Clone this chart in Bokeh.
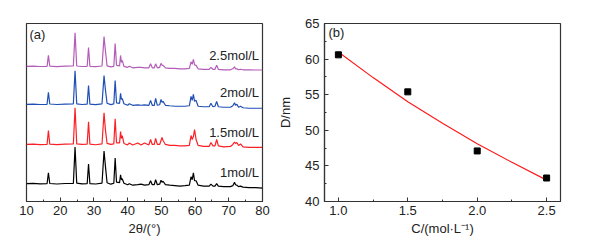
from bokeh.plotting import figure
from bokeh.layouts import row
from bokeh.models import Range1d, Label, SingleIntervalTicker, PrintfTickFormatter
from bokeh.embed import file_html
from bokeh.resources import INLINE

# ---------------- data: panel (a) XRD patterns ----------------
two_theta = [10.0, 12.0, 14.0, 16.1, 16.5, 16.9, 19.0, 21.5, 23.9, 24.4,
             24.9, 26.5, 28.0, 28.4, 28.8, 30.5, 32.4, 33.0, 33.4, 33.9,
             35.0, 35.9, 36.3, 36.7, 37.6, 37.9, 38.15, 38.4, 38.9, 40.0,
             40.5, 41.5, 43.0, 44.0, 45.0, 46.3, 46.8, 47.3, 47.9, 48.3,
             48.8, 49.5, 49.9, 50.2, 50.5, 51.2, 52.5, 54.0, 55.5, 57.0,
             58.3, 58.8, 59.15, 59.5, 59.85, 60.3, 60.9, 62.5, 64.2, 64.7,
             65.3, 65.9, 66.4, 66.9, 68.5, 70.5, 71.2, 71.7, 72.0, 72.4,
             72.9, 73.5, 74.2, 76.0, 78.0, 80.0]

int_1M = [0, 0.3, -0.2, 0, 11, 0.2, -0.3, 0.2, 0.3, 37,
          0.5, -0.2, 0, 20, 0, -0.3, 0.5, 33, 18, 1,
          -0.5, 0.5, 26, 1.5, 1, 9, 4, 5, 0.5, -1,
          0, -1.5, -1, -0.5, -1.5, -1, 3, -1, -1, 4,
          -1, -0.5, 3.5, 1.5, 2.5, -1, -1.5, -2, -2.5, -2,
          -1.5, 7, 4, 11, 3, 3, -1.5, -2.5, -2.5, -0.5,
          -2.5, -2.5, 0, -2.5, -3, -3, -2, 1.5, -1, -1.5,
          -3, -2.5, -3.5, -4, -4, -4.5]

int_1p5M = [0, 0.3, -0.2, 0, 14, 0.3, -0.2, 0.3, 0.5, 37,
            0.5, 0, 0.3, 23, 0.3, -0.3, 0.5, 32, 15, 1,
            0, 0.5, 26, 1.5, 1.5, 13, 6, 9, 1, -0.5,
            1.5, -0.5, 1.5, -0.5, 1.5, -0.5, 5, 0, 0, 6,
            0, 0, 4, 7, 4, 0, -1, -1, -1.5, -1.5,
            -1, 9, 5, 8, 15, 5, -1, -2, -2, 2,
            -1.5, -1.5, 5, -1.5, -2.5, -2, 0, 2.5, 1, 2,
            -1, 0.5, -2.5, -3, -3, -3]

int_2M = [0, 0.2, -0.2, 0, 12, 0.3, -0.2, 0.2, 0.5, 34,
          0.5, -0.2, 0.2, 19, 0.2, -0.3, 0.5, 29, 15, 1,
          -0.3, 0.5, 24, 1.5, 1, 11, 5, 6, 0.5, -1,
          0.5, -1, -0.5, -1, -0.5, -1, 4, -1, -1, 6,
          -1, -0.5, 5, 2, 3, -1, -1.5, -2, -2, -2,
          -1.5, 8, 4, 10, 3, 4, -2, -2.5, -2.5, 1,
          -2.5, -2, 3, -2.5, -3, -3, -1.5, 1.5, -1, 0,
          -3, -2, -3.5, -4, -4, -4]

int_2p5M = [0, 0.2, -0.2, 0, 11, 0.2, -0.3, 0.2, 0.3, 34,
            0.3, -0.2, 0, 19, 0, -0.3, 0.3, 30, 16, 0.5,
            -0.5, 0, 23, 1, 0.5, 11, 4, 6, 0, -1,
            0, -1.5, -1, -1, -1.5, -1.5, 2.5, -1.5, -1.5, 2.5,
            -1.5, -1, 3, 1, 1, -1.5, -2, -2, -2.5, -2.5,
            -2, 4.5, 2, 7, 1.5, 1, -2.5, -3, -3, -1,
            -3, -3, 1, -3, -3.5, -3.5, -2.5, -0.5, -2.5, -2.5,
            -3.5, -3, -3.5, -3.5, -3.7, -3.7]

series_names = ["1mol/L", "1.5mol/L", "2mol/L", "2.5mol/L"]
series_values = [int_1M, int_1p5M, int_2M, int_2p5M]
series_offsets = [18, 57.7, 98.3, 136.7]
series_colors = ["#000000", "#fb2026", "#1f4fb5", "#b45cb8"]

# ---------------- data: panel (b) crystallite size ----------------
conc = [1.0, 1.5, 2.0, 2.5]
size_nm = [60.6, 55.4, 47.1, 43.3]
fit_conc = [1.0, 1.25, 1.5, 1.75, 2.0, 2.25, 2.5]
fit_size = [61.0, 57.4, 54.0, 51.0, 48.1, 45.5, 43.0]

FONT = "Liberation Sans"
FS = "13px"
W1, W2, H = 275, 314, 246


def style_axis(a):
    a.major_tick_in = 4
    a.major_tick_out = 0
    a.minor_tick_in = 2
    a.minor_tick_out = 0
    a.axis_line_color = "#333333"
    a.axis_line_width = 1.2
    a.major_tick_line_color = "#333333"
    a.minor_tick_line_color = "#333333"
    a.major_label_text_font = FONT
    a.major_label_text_font_size = FS
    a.major_label_text_color = "#222222"
    a.axis_label_text_font = FONT
    a.axis_label_text_font_size = FS
    a.axis_label_text_font_style = "normal"
    a.axis_label_text_color = "#222222"


# ---------------- panel (a) ----------------
pa = figure(width=W1, height=H, output_backend="svg", toolbar_location=None,
            x_range=Range1d(10, 80), y_range=Range1d(0, 180),
            min_border_left=26, min_border_right=W1 - 262,
            min_border_top=21, min_border_bottom=45)
pa.yaxis.visible = False
pa.xgrid.visible = False
pa.ygrid.visible = False
pa.outline_line_color = "#333333"
pa.outline_line_width = 1.2
pa.background_fill_color = "white"
pa.border_fill_color = "white"

ax = pa.xaxis[0]
ax.ticker = SingleIntervalTicker(interval=10, num_minor_ticks=2)
style_axis(ax)
ax.major_label_standoff = 4
ax.axis_label = "2θ/(°)"
ax.axis_label_standoff = 3

for name, vals, off, col in zip(series_names, series_values, series_offsets, series_colors):
    ys = [v + off for v in vals]
    pa.line(two_theta, ys, line_color=col, line_width=1.2)


def ax_x(px):
    return 10 + (px - 26) / 236 * 70


def ax_y(py):
    return (201 - py) / 180 * 180


label_py = [172, 131, 91, 53]
for name, py in zip(series_names, label_py):
    pa.add_layout(Label(x=ax_x(258.5), y=ax_y(py), text=name, text_align="right",
                        text_baseline="middle", text_font=FONT, text_font_size=FS,
                        text_color="#222222"))

pa.add_layout(Label(x=ax_x(29), y=ax_y(32), text="(a)", text_align="left",
                    text_baseline="middle", text_font=FONT, text_font_size=FS,
                    text_color="#222222"))

# ---------------- panel (b) ----------------
pb = figure(width=W2, height=H, output_backend="svg", toolbar_location=None,
            x_range=Range1d(0.9, 2.6), y_range=Range1d(40, 65),
            min_border_left=324 - W1, min_border_right=589 - 560,
            min_border_top=23, min_border_bottom=44)
pb.xgrid.visible = False
pb.ygrid.visible = False
pb.outline_line_color = "#333333"
pb.outline_line_width = 1.2
pb.background_fill_color = "white"
pb.border_fill_color = "white"

bx = pb.xaxis[0]
bx.ticker = SingleIntervalTicker(interval=0.5, num_minor_ticks=2)
bx.formatter = PrintfTickFormatter(format="%.1f")
by = pb.yaxis[0]
by.ticker = SingleIntervalTicker(interval=5, num_minor_ticks=2)
style_axis(bx)
style_axis(by)
bx.major_label_standoff = 4
by.major_label_standoff = 5
bx.axis_label = "C/(mol·L⁻¹)"
bx.axis_label_standoff = 3
by.axis_label = "D/nm"
by.axis_label_standoff = 9

pb.line(fit_conc, fit_size, line_color="#ff1a1a", line_width=1.2)
pb.scatter(conc, size_nm, marker="square", size=6, fill_color="black", line_color="black")


def bx_x(px):
    return 0.9 + (px - 324) / 236 * 1.7


def by_y(py):
    return 40 + (202 - py) / 179 * 25


pb.add_layout(Label(x=bx_x(328), y=by_y(32), text="(b)", text_align="left",
                    text_baseline="middle", text_font=FONT, text_font_size=FS,
                    text_color="#222222"))

layout = row(pa, pb)
open("out.html", "w").write(file_html(layout, INLINE))
